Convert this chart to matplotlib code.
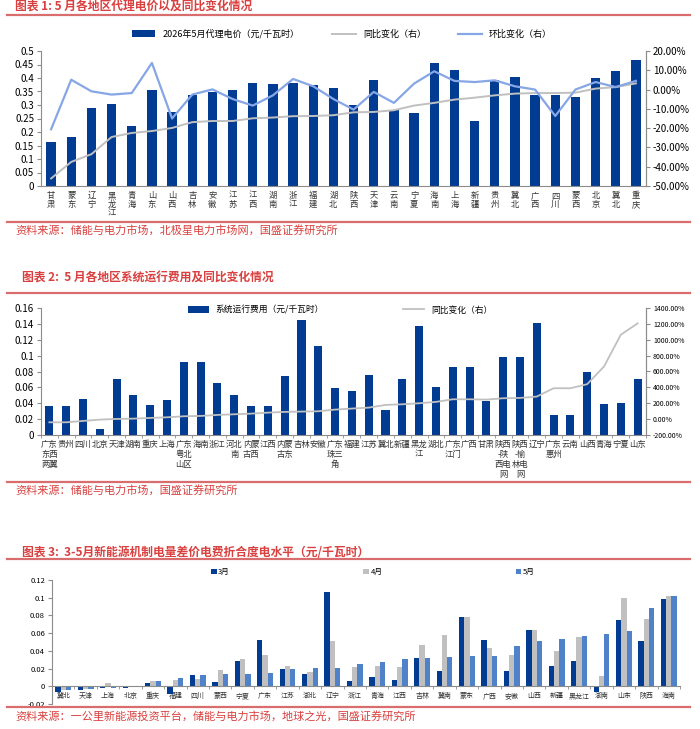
import matplotlib
matplotlib.use('Agg')
import matplotlib.pyplot as plt
import numpy as np
from matplotlib.lines import Line2D
from matplotlib.ticker import FuncFormatter

plt.rcParams['font.family'] = ['Noto Sans CJK SC', 'DejaVu Sans']

# ---- chart 1: agency price by region
reg1 = ['甘肃', '蒙东', '辽宁', '黑龙江', '青海', '山东', '山西', '吉林', '安徽', '江苏',
        '江西', '湖南', '浙江', '福建', '湖北', '陕西', '天津', '云南', '宁夏', '海南',
        '上海', '新疆', '贵州', '冀北', '广西', '四川', '蒙西', '北京', '冀北', '重庆']
price1 = [0.163, 0.180, 0.288, 0.304, 0.222, 0.357, 0.275, 0.336, 0.349, 0.357,
          0.380, 0.378, 0.380, 0.373, 0.363, 0.301, 0.391, 0.283, 0.270, 0.456,
          0.428, 0.241, 0.391, 0.405, 0.337, 0.338, 0.331, 0.401, 0.427, 0.465]
yoy1 = [-46.1, -37.5, -33.5, -24.6, -22.5, -21.5, -19.9, -16.9, -16.3, -16.3,
        -14.9, -14.5, -13.8, -13.7, -13.3, -11.8, -11.6, -10.7, -8.3, -6.9,
        -5.2, -4.2, -3.0, -2.1, -1.8, -1.8, -1.6, 0.5, 1.3, 3.2]
mom1 = [-20.6, 5.1, -0.9, -2.6, -1.8, 13.8, -15.0, -2.6, 0.1, -4.9,
        -8.3, -3.0, 5.5, 1.7, -4.9, -10.4, -1.2, -6.9, 3.1, 9.5,
        4.5, 3.9, 4.8, 1.7, 0.0, -13.7, 0.0, 3.9, 1.3, 4.5]

# ---- chart 2: system operation cost
reg2 = ['广东东西两翼', '贵州', '四川', '北京', '天津', '湖南', '重庆', '上海', '广东粤北山区',
        '海南', '浙江', '河北南', '内蒙古西', '江西', '内蒙古东', '吉林', '安徽', '广东珠三角',
        '福建', '江苏', '冀北', '新疆', '黑龙江', '湖北', '广东江门', '广西', '甘肃',
        '陕西-陕西电网', '陕西-榆林电网', '辽宁', '广东惠州', '云南', '山西', '青海', '宁夏', '山东']
cost2 = [0.036, 0.036, 0.045, 0.0076, 0.070, 0.051, 0.038, 0.044, 0.092,
         0.092, 0.066, 0.051, 0.037, 0.036, 0.074, 0.145, 0.112, 0.059,
         0.055, 0.076, 0.032, 0.070, 0.137, 0.061, 0.086, 0.086, 0.043,
         0.098, 0.098, 0.141, 0.025, 0.025, 0.080, 0.039, 0.040, 0.071]
yoy2 = [-40, -40, -23, -6, 2, 6, 15, 23, 36,
        40, 53, 61, 69, 82, 91, 95, 99, 120,
        133, 145, 179, 187, 200, 217, 250, 250, 246,
        263, 267, 284, 389, 389, 440, 663, 1063, 1206]

# ---- chart 3: new energy mechanism price difference, Mar-May
reg3 = ['冀北', '天津', '上海', '北京', '重庆', '福建', '四川', '蒙西', '宁夏', '广东',
        '江苏', '湖北', '辽宁', '浙江', '青海', '江西', '吉林', '冀南', '蒙东', '广西',
        '安徽', '山西', '新疆', '黑龙江', '湖南', '山东', '陕西', '海南']
mar3 = [-0.006, -0.0038, -0.0015, -0.0019, 0.0038, -0.009, 0.0124, 0.0053, 0.0286, 0.0523,
        0.0192, 0.0135, 0.106, 0.006, 0.0105, 0.0068, 0.0324, 0.0177, 0.0786, 0.0523,
        0.0173, 0.0632, 0.023, 0.0286, -0.0064, 0.0745, 0.0512, 0.099]
apr3 = [-0.0045, -0.0026, 0.0034, -0.0004, 0.0056, 0.0075, 0.0083, 0.0184, 0.0312, 0.035,
        0.0233, 0.0165, 0.0515, 0.0214, 0.023, 0.0222, 0.0466, 0.0583, 0.0779, 0.0429,
        0.0354, 0.0632, 0.0403, 0.0557, 0.0113, 0.100, 0.076, 0.1023]
may3 = [-0.004, -0.003, -0.0015, -0.0008, 0.0064, 0.0098, 0.0128, 0.0139, 0.0143, 0.0154,
        0.0192, 0.0203, 0.021, 0.0256, 0.027, 0.0312, 0.032, 0.0327, 0.0346, 0.0346,
        0.0455, 0.0512, 0.0534, 0.0572, 0.059, 0.0624, 0.0888, 0.1023]

navy = '#023B92'
lblue = '#86A6E6'
grey = '#C0C0C0'
mblue = '#4F82C8'
red = '#D9403F'
redline = '#D96C6C'
axc = '#8C8C8C'

W, H = 700, 729
fig = plt.figure(figsize=(7, 7.29), dpi=100)


def rect(l, t, r, b):
    return [l / W, 1 - b / H, (r - l) / W, (b - t) / H]


def hline(y):
    fig.add_artist(Line2D([7 / W, 690 / W], [1 - y / H, 1 - y / H], color=redline, lw=1.6))


def ftext(x, y, s, **kw):
    fig.text(x / W, 1 - y / H, s, va='center', ha='left', color=red, style='italic', **kw)


def style_ax(ax):
    ax.spines['top'].set_visible(False)
    for sp in ['left', 'bottom', 'right']:
        ax.spines[sp].set_color(axc)
        ax.spines[sp].set_linewidth(0.8)
    ax.tick_params(axis='y', length=3, color=axc, labelsize=7, pad=2)
    ax.tick_params(axis='x', which='major', length=0)
    ax.tick_params(axis='x', which='minor', length=2, color=axc)


fmt_g = FuncFormatter(lambda v, p: f'{v:g}' if abs(v) > 1e-9 else '0')

# ================= chart 1
ftext(15, 6, '图表 1: 5 月各地区代理电价以及同比变化情况', fontsize=8.5, fontweight='bold')
hline(15)
x1 = np.arange(len(reg1))
ax1 = fig.add_axes(rect(41, 51, 646, 186))
b1 = ax1.bar(x1, price1, width=0.46, color=navy, zorder=2)
ax1.set_ylim(0, 0.5)
ax1.set_yticks(np.arange(0, 0.501, 0.05))
ax1.yaxis.set_major_formatter(fmt_g)
ax1.set_xlim(-0.5, len(reg1) - 0.5)
ax1.set_xticks(x1)
ax1.set_xticklabels(['\n'.join(s) for s in reg1], fontsize=6, color='#333333', linespacing=1.0, va='top')
style_ax(ax1)
ax1r = ax1.twinx()
l1, = ax1r.plot(x1, yoy1, color=grey, lw=1.4)
l2, = ax1r.plot(x1, mom1, color=lblue, lw=1.6)
ax1r.set_ylim(-50, 20)
ax1r.set_yticks(np.arange(-50, 21, 10))
ax1r.yaxis.set_major_formatter(FuncFormatter(lambda v, p: f'{v:.2f}%'))
style_ax(ax1r)
ax1r.spines['left'].set_visible(False)
ax1r.spines['bottom'].set_visible(False)
fig.legend([b1, l1, l2], ['2026年5月代理电价（元/千瓦时）', '同比变化（右）', '环比变化（右）'],
           loc='center', bbox_to_anchor=(342 / W, 1 - 34 / H), ncol=3, frameon=False,
           fontsize=6.5, handlelength=2.6, handleheight=0.7, columnspacing=3.6)
hline(222)
ftext(15, 230, '资料来源：储能与电力市场，北极星电力市场网，国盛证券研究所', fontsize=8)

# ================= chart 2
ftext(22, 278, '图表 2:  5 月各地区系统运行费用及同比变化情况', fontsize=8.5, fontweight='bold')
hline(293)
x2 = np.arange(len(reg2))
ax2 = fig.add_axes(rect(41, 308, 646, 435))
b2 = ax2.bar(x2, cost2, width=0.48, color=navy, zorder=2)
ax2.set_ylim(0, 0.16)
ax2.set_yticks(np.arange(0, 0.161, 0.02))
ax2.yaxis.set_major_formatter(fmt_g)
ax2.set_xlim(-0.5, len(reg2) - 0.5)
ax2.set_xticks(x2)
ax2.set_xticklabels(['\n'.join(s[i:i + 2] for i in range(0, len(s), 2)) for s in reg2],
                    fontsize=6, color='#333333', linespacing=1.15, va='top')
ax2.set_xticks(np.arange(-0.5, len(reg2), 1), minor=True)
style_ax(ax2)
ax2r = ax2.twinx()
l3, = ax2r.plot(x2, yoy2, color=grey, lw=1.3)
ax2r.set_ylim(-200, 1400)
ax2r.set_yticks(np.arange(-200, 1401, 200))
ax2r.yaxis.set_major_formatter(FuncFormatter(lambda v, p: f'{v:.2f}%'))
style_ax(ax2r)
ax2r.tick_params(axis='y', labelsize=5)
ax2r.spines['left'].set_visible(False)
ax2r.spines['bottom'].set_visible(False)
fig.legend([b2, l3], ['系统运行费用（元/千瓦时）', '同比变化（右）'],
           loc='center', bbox_to_anchor=(340 / W, 1 - 310 / H), ncol=2, frameon=False,
           fontsize=6.3, handlelength=2.4, handleheight=0.7, columnspacing=9)
hline(482)
ftext(15, 490, '资料来源：储能与电力市场，国盛证券研究所', fontsize=8)

# ================= chart 3
ftext(22, 553, '图表 3:  3-5月新能源机制电量差价电费折合度电水平（元/千瓦时）', fontsize=8.5, fontweight='bold')
hline(559)
x3 = np.arange(len(reg3))
w3 = 0.235
ax3 = fig.add_axes(rect(52, 580, 680, 704))
b3a = ax3.bar(x3 - w3, mar3, width=w3, color=navy, zorder=2)
b3b = ax3.bar(x3, apr3, width=w3, color=grey, zorder=2)
b3c = ax3.bar(x3 + w3, may3, width=w3, color=mblue, zorder=2)
ax3.set_ylim(-0.02, 0.12)
ax3.set_yticks(np.arange(-0.02, 0.121, 0.02))
ax3.yaxis.set_major_formatter(fmt_g)
ax3.set_xlim(-0.5, len(reg3) - 0.5)
style_ax(ax3)
ax3.spines['right'].set_visible(False)
ax3.spines['bottom'].set_position(('data', 0))
ax3.set_xticks(x3)
ax3.set_xticklabels(reg3)
ax3.set_xticks(np.arange(-0.5, len(reg3), 1), minor=True)
ax3.tick_params(axis='y', labelsize=5.5)
ax3.tick_params(axis='x', which='major', length=0, labelsize=5, labelcolor='#333333', pad=4)
ax3.tick_params(axis='x', which='minor', length=2, color=axc)
fig.legend([b3a, b3b, b3c], ['3月', '4月', '5月'],
           loc='center', bbox_to_anchor=(373 / W, 1 - 572 / H), ncol=3, frameon=False,
           fontsize=5.5, handlelength=0.7, handleheight=0.7, handletextpad=0.2, columnspacing=17.5)
hline(707)
ftext(15, 716, '资料来源：一公里新能源投资平台，储能与电力市场，地球之光，国盛证券研究所', fontsize=8)

fig.savefig('out.png', dpi=100)
